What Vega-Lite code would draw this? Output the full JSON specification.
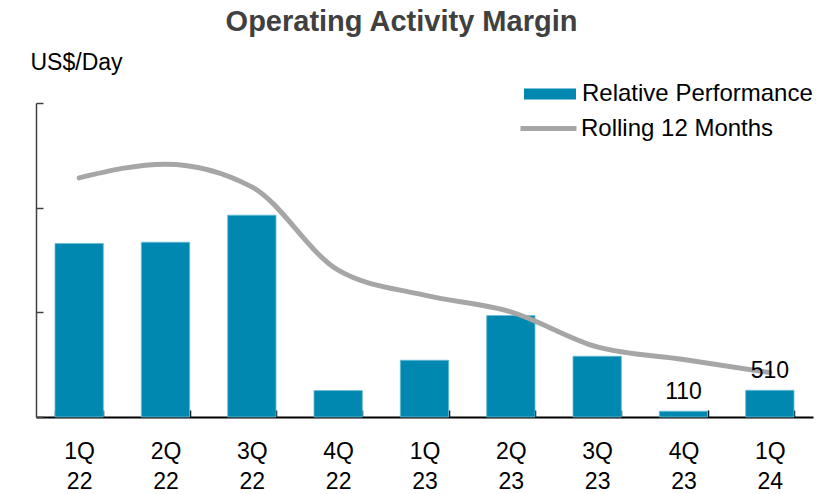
{
  "$schema": "https://vega.github.io/schema/vega-lite/v6.json",
  "autosize": "none",
  "width": 777,
  "height": 314,
  "padding": {"left": 36, "top": 103, "right": 23, "bottom": 77},
  "background": "white",
  "config": {
    "font": "Liberation Sans",
    "view": {"stroke": null}
  },
  "title": {
    "text": "Operating Activity Margin",
    "fontSize": 29,
    "fontWeight": "bold",
    "color": "#404040",
    "anchor": "middle",
    "dx": -23,
    "offset": 14
  },
  "data": {
    "values": [
      {"quarter": "1Q 22", "relative": 3316, "rolling": 4570},
      {"quarter": "2Q 22", "relative": 3340, "rolling": 4832},
      {"quarter": "3Q 22", "relative": 3857, "rolling": 4398},
      {"quarter": "4Q 22", "relative": 505, "rolling": 2806},
      {"quarter": "1Q 23", "relative": 1084, "rolling": 2328},
      {"quarter": "2Q 23", "relative": 1939, "rolling": 2008},
      {"quarter": "3Q 23", "relative": 1161, "rolling": 1339},
      {"quarter": "4Q 23", "relative": 110, "rolling": 1098},
      {"quarter": "1Q 24", "relative": 510, "rolling": 849}
    ]
  },
  "encoding": {
    "x": {
      "field": "quarter",
      "type": "nominal",
      "sort": null,
      "scale": {"paddingInner": 0.44, "paddingOuter": 0.22},
      "axis": {
        "title": null,
        "labelAngle": 0,
        "labelExpr": "split(datum.label, ' ')",
        "labelFontSize": 23,
        "labelLineHeight": 30,
        "labelColor": "#000000",
        "labelPadding": 30,
        "labelBaseline": "top",
        "tickBand": "extent",
        "tickSize": -7,
        "tickColor": "#000000",
        "tickWidth": 1.5,
        "domainColor": "#000000",
        "domainWidth": 2,
        "grid": false
      }
    }
  },
  "layer": [
    {
      "mark": {"type": "bar", "stroke": "#6cbcd6", "strokeWidth": 0.8},
      "encoding": {
        "y": {
          "field": "relative",
          "type": "quantitative",
          "scale": {"domain": [0, 6000], "nice": false},
          "axis": {
            "title": "US$/Day",
            "titleAngle": 0,
            "titleAlign": "left",
            "titleBaseline": "alphabetic",
            "titleX": -6,
            "titleY": -34,
            "titleFontSize": 23,
            "titleFontWeight": "normal",
            "titleColor": "#000000",
            "labels": false,
            "values": [0, 2000, 4000, 6000],
            "tickSize": -7,
            "tickColor": "#404040",
            "tickWidth": 1.5,
            "domainColor": "#404040",
            "domainWidth": 1.5,
            "grid": false
          }
        },
        "color": {
          "datum": "Relative Performance",
          "type": "nominal",
          "scale": {"range": ["#0088B0"]},
          "legend": {
            "title": null,
            "orient": "none",
            "legendX": 488,
            "legendY": -35,
            "symbolType": "M-1,-0.21H1V0.21H-1Z",
            "symbolSize": 2704,
            "symbolStrokeWidth": 0,
            "labelFontSize": 24,
            "labelLimit": 0,
            "labelColor": "#000000",
            "labelOffset": 6
          }
        }
      }
    },
    {
      "mark": {"type": "line", "interpolate": "monotone", "strokeWidth": 5, "strokeCap": "round"},
      "encoding": {
        "y": {"field": "rolling", "type": "quantitative"},
        "stroke": {
          "datum": "Rolling 12 Months",
          "type": "nominal",
          "scale": {"range": ["#A6A6A6"]},
          "legend": {
            "title": null,
            "orient": "none",
            "legendX": 482,
            "legendY": -5,
            "symbolType": "stroke",
            "symbolSize": 3136,
            "symbolStrokeWidth": 5,
            "labelFontSize": 24,
            "labelLimit": 0,
            "labelColor": "#000000",
            "labelOffset": 2
          }
        }
      }
    },
    {
      "transform": [{"filter": "datum.quarter == '4Q 23' || datum.quarter == '1Q 24'"}],
      "mark": {"type": "text", "fontSize": 23, "baseline": "alphabetic", "dy": -12, "color": "#000000"},
      "encoding": {
        "y": {"field": "relative", "type": "quantitative"},
        "text": {"field": "relative", "type": "quantitative"}
      }
    }
  ]
}
